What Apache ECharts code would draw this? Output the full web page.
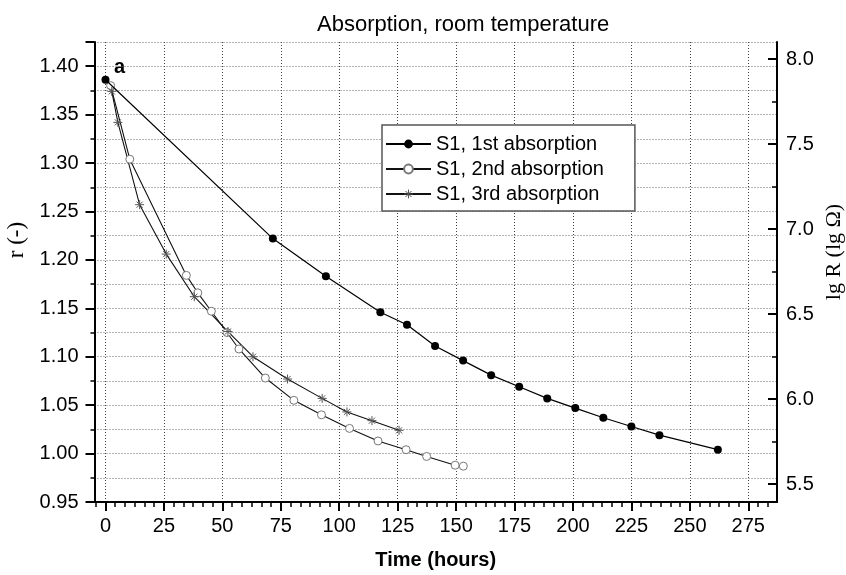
<!DOCTYPE html>
<html>
<head>
<meta charset="utf-8">
<script src="https://cdn.jsdelivr.net/npm/echarts@6/dist/echarts.min.js"></script>
<style>
  html, body { margin: 0; padding: 0; background: #fff; }
  #chart { width: 846px; height: 575px; }
</style>
</head>
<body>
<div id="chart"></div>
<script>
// data (time in hours, r dimensionless)
var s1Time = [0, 71.6, 94.3, 117.6, 129, 141, 153, 165, 177, 189, 201, 213, 225, 237, 262];
var s1R    = [1.386, 1.222, 1.183, 1.146, 1.133, 1.111, 1.096, 1.081, 1.069, 1.057, 1.047, 1.037, 1.028, 1.019, 1.004];

var s2Time = [2.2, 10.4, 34.6, 39.5, 45.3, 52, 57.1, 68.4, 80.6, 92.4, 104.4, 116.6, 128.6, 137.4, 149.6, 153.1];
var s2R    = [1.380, 1.304, 1.184, 1.166, 1.147, 1.125, 1.108, 1.078, 1.055, 1.040, 1.026, 1.013, 1.004, 0.997, 0.988, 0.987];

var s3Time = [2.7, 5.3, 14.6, 26, 38, 52.4, 63.1, 77.9, 92.7, 103.3, 114, 125.6];
var s3R    = [1.374, 1.342, 1.257, 1.206, 1.162, 1.126, 1.100, 1.077, 1.057, 1.043, 1.034, 1.024];

// tick labels
var xTicks = [0, 25, 50, 75, 100, 125, 150, 175, 200, 225, 250, 275];
var rightTicks = [5.5, 6.0, 6.5, 7.0, 7.5, 8.0];
var rightMinorTicks = [5.75, 6.25, 6.75, 7.25, 7.75];

var seriesNames = ['S1, 1st absorption', 'S1, 2nd absorption', 'S1, 3rd absorption'];

function pairs(xs, ys) {
    return xs.map(function (x, i) { return [x, ys[i]]; });
}

// minor ticks on time axis: 5 between each labelled tick
var xMinorTicks = [];
for (var k = -1; k * 25 / 6 < 288; k++) {
    if (k % 6 !== 0) xMinorTicks.push(k * 25 / 6);
}

var sans = 'Liberation Sans, Arial, sans-serif';
var serif = 'Liberation Serif, Times New Roman, serif';
var starPath = 'path://M5,0L5,10M0,5L10,5M1.6,1.6L8.4,8.4M8.4,1.6L1.6,8.4';
var starStyle = { color: '#555', borderColor: '#555', borderWidth: 1 };

var chart = echarts.init(document.getElementById('chart'));

var option = {
    backgroundColor: '#fff',
    animation: false,
    title: {
        text: 'Absorption, room temperature',
        left: 312,
        top: 9,
        textStyle: { fontFamily: sans, fontSize: 22, fontWeight: 'normal', color: '#000' }
    },
    legend: {
        orient: 'vertical',
        left: 382,
        top: 125,
        data: [
            { name: seriesNames[0] },
            { name: seriesNames[1] },
            { name: seriesNames[2], itemStyle: starStyle }
        ],
        backgroundColor: '#fff',
        borderColor: '#555',
        borderWidth: 1.5,
        borderRadius: 0,
        padding: [9, 31, 7, 3],
        itemGap: 5,
        itemWidth: 45,
        itemHeight: 11,
        textStyle: { fontFamily: sans, fontSize: 20, color: '#000' }
    },
    grid: { left: 94.5, right: 69, top: 42, bottom: 72.5, containLabel: false },
    xAxis: [{
        type: 'value',
        min: -4.7,
        max: 287.3,
        name: 'Time (hours)',
        nameLocation: 'middle',
        nameGap: 48,
        nameTextStyle: { fontFamily: sans, fontSize: 20, fontWeight: 'bold', color: '#000' },
        axisLine: { onZero: false, lineStyle: { color: '#000', width: 2 } },
        axisTick: { customValues: xTicks, length: 9, lineStyle: { color: '#000', width: 2 } },
        axisLabel: { customValues: xTicks, margin: 14, fontFamily: sans, fontSize: 20, color: '#000' },
        splitLine: { show: true, lineStyle: { color: '#444', width: 1, type: [1, 2] } }
    }, {
        type: 'value',
        position: 'bottom',
        min: -4.7,
        max: 287.3,
        axisLine: { show: false, onZero: false },
        axisTick: { customValues: xMinorTicks, length: 5, lineStyle: { color: '#000', width: 1.5 } },
        axisLabel: { show: false },
        splitLine: { show: false }
    }],
    yAxis: [{
        type: 'value',
        position: 'left',
        min: 0.95,
        max: 1.425,
        interval: 0.05,
        axisLine: { onZero: false, lineStyle: { color: '#000', width: 2 } },
        axisTick: { length: 9, lineStyle: { color: '#000', width: 2 } },
        minorTick: { show: true, splitNumber: 2, length: 4, lineStyle: { color: '#000', width: 1.5 } },
        axisLabel: {
            margin: 16, showMaxLabel: false,
            fontFamily: sans, fontSize: 20, color: '#000',
            formatter: function (v) { return v.toFixed(2); }
        },
        splitLine: { show: true, showMaxLine: false, lineStyle: { color: '#666', width: 1, type: [1, 2] } },
        minorSplitLine: { show: true, lineStyle: { color: '#666', width: 1, type: [1, 2] } }
    }, {
        type: 'value',
        position: 'right',
        min: 5.395,
        max: 8.10,
        axisLine: { show: true, onZero: false, lineStyle: { color: '#000', width: 2 } },
        axisTick: { customValues: rightTicks, inside: true, length: 9, lineStyle: { color: '#000', width: 2 } },
        axisLabel: {
            customValues: rightTicks, margin: 9,
            fontFamily: sans, fontSize: 20, color: '#000',
            formatter: function (v) { return v.toFixed(1); }
        },
        splitLine: { show: false }
    }, {
        type: 'value',
        position: 'right',
        min: 5.395,
        max: 8.10,
        axisLine: { show: false, onZero: false },
        axisTick: { customValues: rightMinorTicks, inside: true, length: 5, lineStyle: { color: '#000', width: 1.5 } },
        axisLabel: { show: false },
        splitLine: { show: false }
    }],
    graphic: [{
        type: 'text',
        left: 114,
        top: 57,
        style: { text: 'a', font: 'bold 20px ' + sans, fill: '#000' }
    }, {
        // left axis name
        type: 'text',
        x: 17,
        y: 240,
        rotation: Math.PI / 2,
        style: { text: 'r (-)', font: '23px ' + serif, fill: '#000', align: 'center', verticalAlign: 'middle' }
    }, {
        // right axis name
        type: 'text',
        x: 834,
        y: 252,
        rotation: Math.PI / 2,
        style: { text: 'lg R (lg Ω)', font: '22px ' + serif, fill: '#000', align: 'center', verticalAlign: 'middle' }
    }],
    series: [{
        name: seriesNames[0],
        type: 'line',
        xAxisIndex: 0,
        yAxisIndex: 0,
        data: pairs(s1Time, s1R),
        symbol: 'circle',
        symbolSize: 8,
        itemStyle: { color: '#000' },
        lineStyle: { color: '#000', width: 1.2 },
        z: 4
    }, {
        name: seriesNames[1],
        type: 'line',
        xAxisIndex: 0,
        yAxisIndex: 0,
        data: pairs(s2Time, s2R),
        symbol: 'circle',
        symbolSize: 8,
        itemStyle: { color: '#fff', borderColor: '#777', borderWidth: 1 },
        lineStyle: { color: '#111', width: 1.1 },
        z: 3
    }, {
        name: seriesNames[2],
        type: 'line',
        xAxisIndex: 0,
        yAxisIndex: 0,
        data: pairs(s3Time, s3R),
        symbol: starPath,
        symbolSize: 9,
        itemStyle: starStyle,
        lineStyle: { color: '#111', width: 1.1 },
        z: 3
    }]
};

chart.setOption(option);
</script>
</body>
</html>
